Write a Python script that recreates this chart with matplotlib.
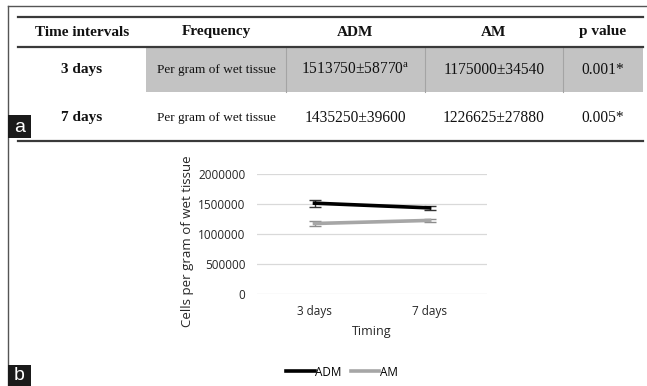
import matplotlib
matplotlib.use("Agg")
import matplotlib.pyplot as plt
from matplotlib.patches import Rectangle
from matplotlib.lines import Line2D

plt.rcParams['mathtext.fontset'] = 'custom'
plt.rcParams['mathtext.rm'] = 'Liberation Serif'

# ---- data ----
headers = ["Time intervals", "Frequency", "ADM", "AM", "p value"]
time_labels = ["3 days", "7 days"]
frequency = ["Per gram of wet tissue", "Per gram of wet tissue"]
adm_mean = [1513750, 1435250]
adm_sd = [58770, 39600]
am_mean = [1175000, 1226625]
am_sd = [34540, 27880]
p_values = ["0.001*", "0.005*"]
superscripts = ["a", ""]
series_names = ["ADM", "AM"]
y_ticks = [0, 500000, 1000000, 1500000, 2000000]
x_title = "Timing"
y_title = "Cells per gram of wet tissue"

W, H = 647, 386
fig = plt.figure(figsize=(W / 100, H / 100), dpi=100)

# ---- panel (a) table, drawn on a pixel-coordinate overlay ----
bg = fig.add_axes([0, 0, 1, 1])
bg.set_xlim(0, W)
bg.set_ylim(H, 0)
bg.axis('off')

# outer frame
bg.plot([8, 8], [6, H], color='#555555', lw=1.0)
bg.plot([8, W], [6, 6], color='#555555', lw=1.0)

col_edges = [18, 146, 286, 425, 563, 643]
col_centers = [(col_edges[i] + col_edges[i + 1]) / 2 for i in range(5)]
y_top, y_head, y_row1, y_bot = 17, 47, 92, 141

# shaded first data row
bg.add_patch(Rectangle((col_edges[1], y_head), col_edges[-1] - col_edges[1], y_row1 - y_head,
                       facecolor='#c3c3c3', edgecolor='none', zorder=1))
for xe in col_edges[2:5]:
    bg.plot([xe, xe], [y_head, y_row1], color='#a4a4a4', lw=0.8, zorder=2)

for yy in (y_top, y_head, y_bot):
    bg.plot([col_edges[0], col_edges[-1]], [yy, yy], color='#3a3a3a', lw=1.6, zorder=3)

serif = 'Liberation Serif'
ink = '#111111'
for cx, h in zip(col_centers, headers):
    bg.text(cx, 32, h, ha='center', va='center', fontsize=11, fontweight='bold',
            family=serif, color=ink)

row_y = [70, 118]
for i in range(2):
    y = row_y[i]
    bg.text(col_centers[0], y, time_labels[i], ha='center', va='center', fontsize=11,
            fontweight='bold', family=serif, color=ink)
    bg.text(col_centers[1], y, frequency[i], ha='center', va='center', fontsize=9.5,
            family=serif, color=ink)
    adm_txt = f"{adm_mean[i]}±{adm_sd[i]}"
    if superscripts[i]:
        adm_txt += r"$^{\mathrm{" + superscripts[i] + "}}$"
    bg.text(col_centers[2], y, adm_txt, ha='center', va='center', fontsize=11.2,
            family=serif, color=ink)
    bg.text(col_centers[3], y, f"{am_mean[i]}±{am_sd[i]}", ha='center', va='center',
            fontsize=11.2, family=serif, color=ink)
    bg.text(col_centers[4], y, p_values[i], ha='center', va='center', fontsize=11.2,
            family=serif, color=ink)

# panel letters
bg.add_patch(Rectangle((8, 115), 23, 23, facecolor='#1a1a1a', edgecolor='none', zorder=4))
bg.text(19.5, 127, "a", ha='center', va='center', color='white', fontsize=14,
        family='Liberation Sans', zorder=5)
bg.add_patch(Rectangle((8, 365), 23, 21, facecolor='#1a1a1a', edgecolor='none', zorder=4))
bg.text(19.5, 375, "b", ha='center', va='center', color='white', fontsize=14,
        family='Liberation Sans', zorder=5)

# ---- panel (b) line chart ----
ax_l, ax_r = 257 / W, 487 / W
ax_b, ax_t = (H - 294) / H, (H - 174) / H
ax = fig.add_axes([ax_l, ax_b, ax_r - ax_l, ax_t - ax_b])
x = list(range(len(time_labels)))
sans = 'Open Sans'
txt = '#262626'
ax.errorbar(x, adm_mean, yerr=adm_sd, color='#000000', lw=2.6, ecolor='#333333',
            elinewidth=1.0, capsize=4.5, capthick=1.0, label=series_names[0], zorder=3)
ax.errorbar(x, am_mean, yerr=am_sd, color='#a6a6a6', lw=2.6, ecolor='#8c8c8c',
            elinewidth=1.0, capsize=4.5, capthick=1.0, label=series_names[1], zorder=3)
ax.set_xlim(-0.5, len(time_labels) - 0.5)
ax.set_ylim(0, 2000000)
ax.set_yticks(y_ticks)
ax.set_yticklabels([str(v) for v in y_ticks], family=sans, fontsize=8.5, color=txt)
ax.set_xticks(x)
ax.set_xticklabels(time_labels, family=sans, fontsize=8.5, color=txt)
ax.tick_params(axis='x', length=0, pad=8)
ax.tick_params(axis='y', length=0, pad=8.5)
ax.grid(axis='y', color='#d9d9d9', lw=0.9)
ax.set_axisbelow(True)
for s in ax.spines.values():
    s.set_visible(False)
ax.set_xlabel(x_title, family=sans, fontsize=9, color=txt)
ax.xaxis.set_label_coords(0.5, -(332 - 294) / 120)
ax.xaxis.label.set_verticalalignment('center')
ax.set_ylabel(y_title, family=sans, fontsize=9.5, color=txt)
ax.yaxis.set_label_coords((187 - 257) / 230, (294 - 241) / 120)
ax.yaxis.label.set_verticalalignment('center')

handles = [Line2D([], [], color='#000000', lw=2.6), Line2D([], [], color='#a6a6a6', lw=2.6)]
fig.legend(handles, series_names, loc='center', bbox_to_anchor=(342 / W, (H - 372) / H),
           ncol=2, frameon=False, prop={'family': sans, 'size': 8.5},
           handlelength=2.4, handletextpad=0.05, columnspacing=0.8)

fig.savefig("out.png", dpi=100)
